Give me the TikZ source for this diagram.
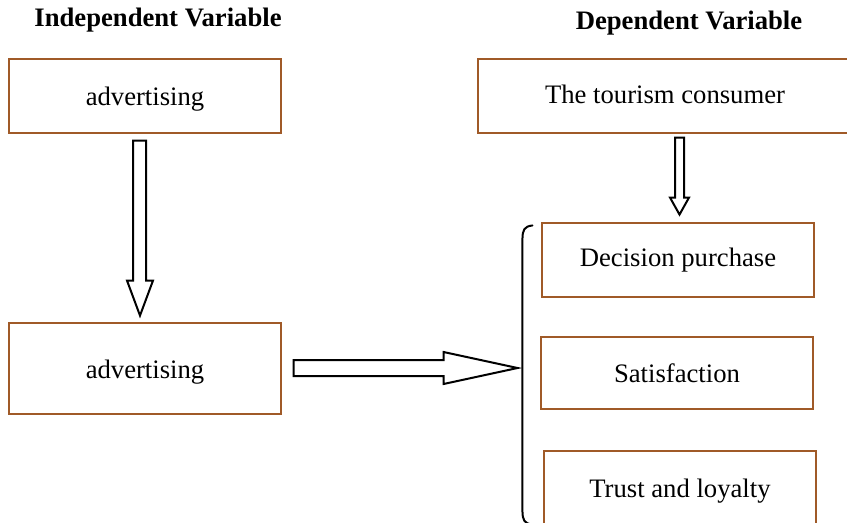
\documentclass[tikz,border=0pt]{standalone}
\usepackage{fontspec}
\setmainfont{Liberation Serif}
\usetikzlibrary{positioning, calc}
\definecolor{boxbrown}{RGB}{160,90,40}

\begin{document}
\begin{tikzpicture}[
  x=0.45pt, y=-0.45pt,
  varbox/.style={draw=boxbrown, line width=0.5pt, minimum width=122.4pt, minimum height=33.3pt, align=center, font=\fontsize{12}{14}\selectfont},
  advbox/.style={varbox, text height=11.5pt, text depth=2.5pt},
  heading/.style={anchor=base, font=\fontsize{12}{14}\selectfont\bfseries},
  fatarrow/.style={draw, line width=0.9pt, fill=white, line join=miter},
  bracket/.style={draw, line width=0.9pt, line cap=round}
]
\useasboundingbox (0,0) rectangle (847,522);

% headings
\node[heading] (indep) at (158,27) {Independent Variable};
\node[heading] (dep) at (689,30) {Dependent Variable};

% independent side
\node[advbox] (adv1) at (145,96) {advertising};
\node[advbox, minimum height=40.95pt] (adv2) at (145,368.5) {advertising};

% dependent side
\node[varbox, minimum width=168.3pt, text height=9pt, text depth=2.5pt] (tourism) at (665,96) {The tourism consumer};
\node[varbox] (decision) at (678,260) {Decision purchase};
\node[varbox, minimum height=32.4pt] (satis) at (677,373) {Satisfaction};
\node[varbox, minimum height=36pt] (trust) at (680,491) {Trust and loyalty};

% hollow arrows
\coordinate (a1) at ($(adv1.south)+(-5.5,7)$);
\draw[fatarrow] (a1) ++(-6.5,0) -- ++(13,0) -- ++(0,140) -- ++(7,0)
  -- ++(-13,35) coordinate (a1tip) -- ++(-13,-35) -- ++(6,0) -- cycle;

\coordinate (a2) at ($(adv2.east)+(12,-0.5)$);
\draw[fatarrow] (a2) ++(0,-8) -- ++(150,0) -- ++(0,-8)
  -- ++(74,16) coordinate (a2tip) -- ++(-74,16) -- ++(0,-8) -- ++(-150,0) -- cycle;

\coordinate (a3) at ($(tourism.south)+(14.5,4)$);
\draw[fatarrow] (a3) ++(-4.5,0) -- ++(9,0) -- ++(0,60) -- ++(5,0)
  -- ++(-9.5,17) coordinate (a3tip) -- ++(-9.5,-17) -- ++(5,0) -- cycle;

% bracket round the dependent boxes
\coordinate (brtop) at ($(decision.north west)+(-9,3)$);
\coordinate (brbot) at ($(trust.south west)+(-11,-7)$);
\draw[bracket] (brtop) .. controls ++(-8,1) and ++(0,-10) .. ++(-10,14)
  -- ($(brbot)+(-10,-14)$) .. controls ++(0,10) and ++(-8,-1) .. (brbot);
\end{tikzpicture}
\end{document}
